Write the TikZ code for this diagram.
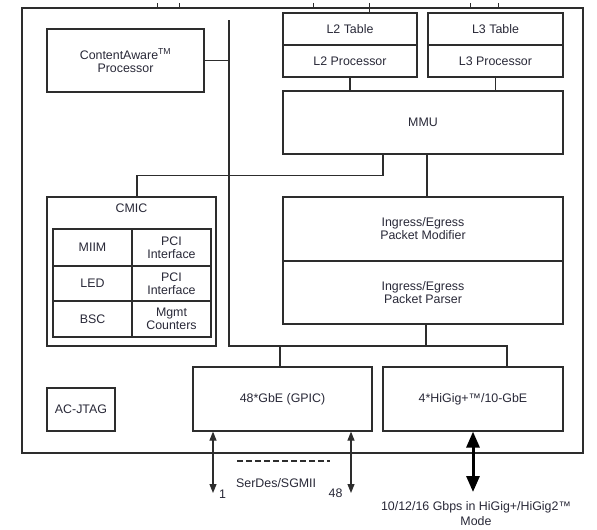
\documentclass[tikz,border=0pt]{standalone}
\usepackage{fontspec}
\setmainfont{Liberation Sans}
\usetikzlibrary{arrows.meta}
\definecolor{txt}{RGB}{40,40,55}
\definecolor{ln}{RGB}{45,45,45}
\begin{document}
\begin{tikzpicture}[x=1pt,y=-1pt,
  box/.style={draw=ln,line width=1.2pt,rectangle,inner sep=0pt,align=center,text=txt,
    font=\fontsize{12.4}{13}\selectfont},
  lbl/.style={inner sep=0pt,text=txt,align=center,font=\fontsize{12.4}{15}\selectfont},
  wire/.style={draw=ln,line width=1.2pt},
  dbl/.style={draw=ln,line width=1.1pt,{Triangle[width=7pt,length=9pt]}-{Triangle[width=7pt,length=9pt]}},
  thick arrow/.style={draw=black,line width=3pt,{Triangle[width=13pt,length=16pt]}-{Triangle[width=13pt,length=16pt]}}
]
\useasboundingbox (0,0) rectangle (597,530);
% outer frame
\draw[wire] (22,8) rectangle (583,453);
% small ticks on top edge
\foreach \tx in {157,179,313,470,498} \draw[ln,line width=0.8pt] (\tx,3) -- (\tx,9);
\draw[ln,line width=0.8pt] (369,3) -- (369,13);

% blocks
\node[box,minimum width=157pt,minimum height=63pt] (ca) at (125.5,60.5) {ContentAware\textsuperscript{TM}\\Processor};
\node[box,minimum width=134pt,minimum height=32pt] (l2t) at (350,29) {L2 Table};
\node[box,minimum width=134pt,minimum height=32pt] (l2p) at (350,61) {L2 Processor};
\node[box,minimum width=135pt,minimum height=32pt] (l3t) at (495.5,29) {L3 Table};
\node[box,minimum width=135pt,minimum height=32pt] (l3p) at (495.5,61) {L3 Processor};
\node[box,minimum width=280pt,minimum height=63pt] (mmu) at (423,122.5) {MMU};
\node[box,minimum width=280pt,minimum height=64pt] (mod) at (423,229) {Ingress/Egress\\Packet Modifier};
\node[box,minimum width=280pt,minimum height=63pt] (par) at (423,292.5) {Ingress/Egress\\Packet Parser};

% CMIC
\node[box,minimum width=169pt,minimum height=149pt] (cmic) at (131.5,271.5) {};
\node[lbl] (cmict) at (131.5,208) {CMIC};
\node[box,minimum width=79pt,minimum height=37pt] (miim) at (92.5,247.5) {MIIM};
\node[box,minimum width=79pt,minimum height=35pt] (led) at (92.5,283.5) {LED};
\node[box,minimum width=79pt,minimum height=36pt] (bsc) at (92.5,319) {BSC};
\node[box,minimum width=79pt,minimum height=37pt] (pci1) at (171.5,247.5) {PCI\\Interface};
\node[box,minimum width=79pt,minimum height=35pt] (pci2) at (171.5,283.5) {PCI\\Interface};
\node[box,minimum width=79pt,minimum height=36pt] (mgmt) at (171.5,319) {Mgmt\\Counters};

\node[box,minimum width=68pt,minimum height=43pt] (jtag) at (81,409.5) {AC-JTAG};
\node[box,minimum width=179pt,minimum height=64pt] (gbe) at (282.5,399) {48*GbE (GPIC)};
\node[box,minimum width=180pt,minimum height=64pt] (hig) at (473,399) {4*HiGig+™/10-GbE};

% bus
\coordinate (bustop) at (229,20);
\coordinate (buscorner) at (229,346);
\coordinate (busright) at (507,346);
\draw[wire] (bustop) -- (buscorner) -- (busright) -- (busright |- hig.north);
\draw[wire] (ca.east) -- (ca.east -| bustop);
\draw[wire] (gbe.north -| 280,0) -- (280,346);
\draw[wire] ([xshift=3pt]par.south) -- ([xshift=3pt]par.south |- buscorner);
% MMU links
\draw[wire] (l2p.south) -- (l2p.south |- mmu.north);
\draw[wire] (l3p.south) -- (l3p.south |- mmu.north);
\draw[wire] ([xshift=4pt]mmu.south) -- ([xshift=4pt]mod.north);
\draw[wire] ([xshift=-40pt]mmu.south) -- ++(0,21) -| ([xshift=5.5pt]cmic.north);

% external arrows
\coordinate (e1) at (213,493);
\coordinate (e48) at (351,493);
\coordinate (eh) at (473,492);
\draw[dbl] (gbe.south -| e1) -- (e1);
\draw[dbl] (gbe.south -| e48) -- (e48);
\draw[thick arrow] (hig.south -| eh) -- (eh);
\node[lbl] (one) at (222.5,494) {1};
\node[lbl] (fortyeight) at (335.5,493.5) {48};
\draw[ln,line width=1.3pt,dash pattern=on 5.5pt off 3.5pt] (237,461) -- (330,461);
\node[lbl,anchor=west] (serdes) at (236,483.5) {SerDes/SGMII};
\node[lbl] (mode) at (476,513.5) {10/12/16 Gbps in HiGig+/HiGig2™\\Mode};
\end{tikzpicture}
\end{document}
